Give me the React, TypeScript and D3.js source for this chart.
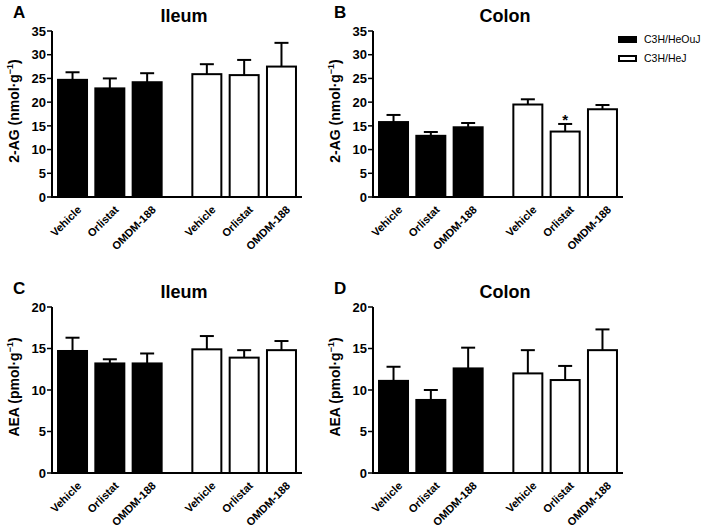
import React from "react";
import * as d3 from "d3";

const treatments = ["Vehicle", "Orlistat", "OMDM-188"];
const strains = ["C3H/HeOuJ", "C3H/HeJ"];

// order: HeOuJ Vehicle, Orlistat, OMDM-188, HeJ Vehicle, Orlistat, OMDM-188
const ag2IleumMean = [24.7, 22.9, 24.2, 25.9, 25.7, 27.5];
const ag2IleumTop = [26.3, 25.0, 26.1, 28.0, 28.9, 32.5];
const ag2ColonMean = [15.8, 12.9, 14.7, 19.5, 13.8, 18.5];
const ag2ColonTop = [17.3, 13.7, 15.6, 20.6, 15.4, 19.4];
const aeaIleumMean = [14.7, 13.2, 13.2, 14.9, 13.9, 14.8];
const aeaIleumTop = [16.3, 13.7, 14.4, 16.5, 14.8, 15.9];
const aeaColonMean = [11.1, 8.8, 12.6, 12.0, 11.2, 14.8];
const aeaColonTop = [12.8, 10.0, 15.1, 14.8, 12.9, 17.3];

const ag2Ticks = [0, 5, 10, 15, 20, 25, 30, 35];
const aeaTicks = [0, 5, 10, 15, 20];

const barPos = [0, 1, 2, 3.6, 4.6, 5.6];
const significant = [false, false, false, false, true, false];
const noSig = [false, false, false, false, false, false];

const FONT = "'Liberation Sans', Arial, Helvetica, sans-serif";

type PanelProps = {
  letter: string;
  title: string;
  left: number;
  right: number;
  top: number;
  bottom: number;
  ymax: number;
  ticks: number[];
  means: number[];
  tops: number[];
  sig: boolean[];
  yLabel: string;
};

function Panel(p: PanelProps) {
  const x = d3.scaleLinear().domain([-0.55, 6.15]).range([p.left, p.right]);
  const y = d3.scaleLinear().domain([0, p.ymax]).range([p.bottom, p.top]);
  const bw = 29;
  const cap = 14;
  const labels = barPos.map((_, i) => treatments[i % 3]);
  return (
    <g fontFamily={FONT}>
      <text x={p.left - 39} y={p.top - 13} fontSize={17} fontWeight="bold">{p.letter}</text>
      <text x={p.left + 132} y={p.top - 9} fontSize={18} fontWeight="bold" textAnchor="middle">{p.title}</text>
      <text
        transform={`translate(${p.left - 33},${(p.top + p.bottom) / 2 - 3}) rotate(-90)`}
        textAnchor="middle"
        fontSize={14}
        fontWeight="bold"
      >
        {p.yLabel}
        <tspan fontSize={9} dy={-6}>−1</tspan>
        <tspan dy={6}>)</tspan>
      </text>
      {/* bars */}
      {p.means.map((m, i) => {
        const cx = x(barPos[i]);
        const black = i < 3;
        return (
          <g key={i}>
            <line x1={cx} x2={cx} y1={y(m)} y2={y(p.tops[i])} stroke="#000" strokeWidth={2} />
            <line x1={cx - cap / 2} x2={cx + cap / 2} y1={y(p.tops[i])} y2={y(p.tops[i])} stroke="#000" strokeWidth={2} />
            <rect
              x={cx - bw / 2}
              y={y(m)}
              width={bw}
              height={y(0) - y(m)}
              fill={black ? "#000" : "#fff"}
              stroke="#000"
              strokeWidth={2}
            />
            {p.sig[i] && (
              <text x={cx} y={y(p.tops[i]) + 1} textAnchor="middle" fontSize={15} fontWeight="bold">*</text>
            )}
            <text
              transform={`translate(${cx + 4},${p.bottom + 8}) rotate(-45)`}
              textAnchor="end"
              fontSize={11}
              fontWeight="bold"
              dy="0.7em"
            >
              {labels[i]}
            </text>
          </g>
        );
      })}
      {/* axes */}
      <line x1={p.left} x2={p.left} y1={p.top} y2={p.bottom} stroke="#000" strokeWidth={2} />
      <line x1={p.left - 1} x2={p.right} y1={p.bottom} y2={p.bottom} stroke="#000" strokeWidth={2} />
      {p.ticks.map((t) => (
        <g key={t}>
          <line x1={p.left - 5} x2={p.left} y1={y(t)} y2={y(t)} stroke="#000" strokeWidth={1.5} />
          <text x={p.left - 6} y={y(t)} dy="0.36em" textAnchor="end" fontSize={13} fontWeight="bold">{t}</text>
        </g>
      ))}
    </g>
  );
}

export default function App() {
  return (
    <svg
      width={709}
      height={528}
      style={{ position: "absolute", left: 0, top: 0, background: "#fff" }}
    >
      <rect x={0} y={0} width={709} height={528} fill="#fff" />
      <Panel letter="A" title="Ileum" left={52} right={302} top={31} bottom={197} ymax={35} ticks={ag2Ticks}
        means={ag2IleumMean} tops={ag2IleumTop} sig={noSig} yLabel="2-AG (nmol·g" />
      <Panel letter="B" title="Colon" left={373} right={623} top={31} bottom={197} ymax={35} ticks={ag2Ticks}
        means={ag2ColonMean} tops={ag2ColonTop} sig={significant} yLabel="2-AG (nmol·g" />
      <Panel letter="C" title="Ileum" left={52} right={302} top={307} bottom={473} ymax={20} ticks={aeaTicks}
        means={aeaIleumMean} tops={aeaIleumTop} sig={noSig} yLabel="AEA (pmol·g" />
      <Panel letter="D" title="Colon" left={373} right={623} top={307} bottom={473} ymax={20} ticks={aeaTicks}
        means={aeaColonMean} tops={aeaColonTop} sig={noSig} yLabel="AEA (pmol·g" />
      {/* legend */}
      <g fontFamily={FONT} fontSize={10.5}>
        {strains.map((s, i) => (
          <g key={s} transform={`translate(619,${37 + i * 19})`}>
            <rect x={0} y={0} width={17} height={5} fill={i === 0 ? "#000" : "#fff"} stroke="#000" strokeWidth={2} />
            <text x={25} y={2.5} dy="0.36em">{s}</text>
          </g>
        ))}
      </g>
    </svg>
  );
}
